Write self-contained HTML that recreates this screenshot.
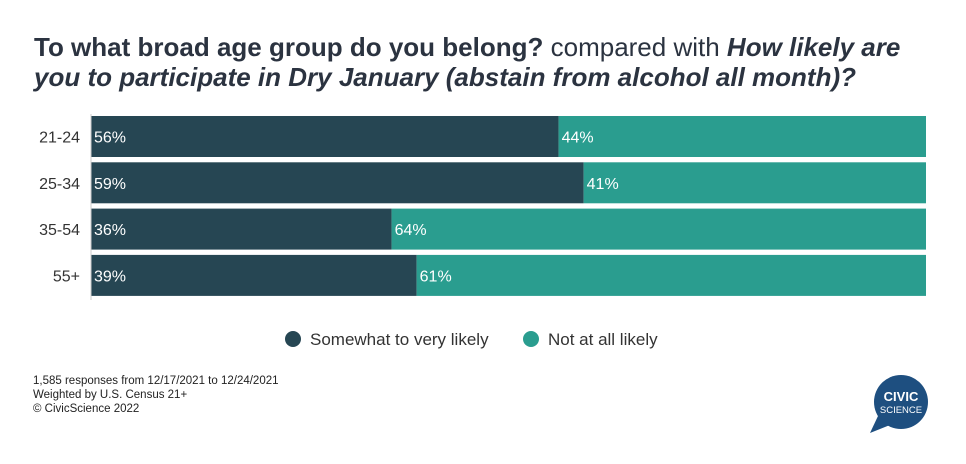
<!DOCTYPE html>
<html><head><meta charset="utf-8"><style>
body{margin:0;width:966px;height:464px;background:#fff;font-family:"Liberation Sans",sans-serif;overflow:hidden;position:relative}
.t{position:absolute;left:34px;top:32px;font-size:26px;line-height:30px;color:#2b3340;font-weight:bold;width:940px;white-space:nowrap}
.t span{font-weight:normal}
.f{position:absolute;left:33px;top:374px;font-size:11.5px;line-height:14px;color:#222}
</style></head><body>
<div class="t">To what broad age group do you belong? <span>compared with</span> <i>How likely are<br>you to participate in Dry January (abstain from alcohol all month)?</i></div>
<svg id="c" width="966" height="464" style="position:absolute;left:0;top:0"></svg>
<div class="f">1,585 responses from 12/17/2021 to 12/24/2021<br>Weighted by U.S. Census 21+<br>© CivicScience 2022</div>
<svg width="966" height="464" style="position:absolute;left:0;top:0">
<circle cx="901" cy="402" r="27" fill="#1e4f80"/>
<path d="M878 416 L870 433 L890 425 Z" fill="#1e4f80"/>
<text x="901" y="401" text-anchor="middle" font-size="13" font-weight="bold" fill="#fff" font-family="Liberation Sans">CIVIC</text>
<text x="901" y="413" text-anchor="middle" font-size="9.5" fill="#fff" font-family="Liberation Sans">SCIENCE</text>
</svg>
<script>
const categories=["21-24","25-34","35-54","55+"];
const likely=[56,59,36,39];
const notLikely=[44,41,64,61];
const seriesNames=["Somewhat to very likely","Not at all likely"];
const colors=["#264653","#2a9d8f"];
const svg=document.getElementById('c');const NS="http://www.w3.org/2000/svg";
const x0=91,x1=926;const xs=v=>x0+(x1-x0)*v/100;
const rowTop=i=>116+i*46.3,bh=41;
function el(t,a){const e=document.createElementNS(NS,t);for(const k in a)e.setAttribute(k,a[k]);svg.appendChild(e);return e;}
categories.forEach((c,i)=>{
 const y=rowTop(i);
 const r1=el('rect',{x:xs(0),y:y,width:xs(likely[i])-xs(0),height:bh,fill:colors[0]});
 
 
 const r2=el('rect',{x:xs(likely[i]),y:y,width:xs(likely[i]+notLikely[i])-xs(likely[i]),height:bh,fill:colors[1]});
 
 
 const t1=el('text',{x:xs(0)+3,y:y+bh/2+6,fill:'#fff','font-size':16});t1.textContent=likely[i]+'%';
 
 
 const t2=el('text',{x:xs(likely[i])+3,y:y+bh/2+6,fill:'#fff','font-size':16});t2.textContent=notLikely[i]+'%';
 
 
 const tl=el('text',{x:80,y:y+bh/2+6,'text-anchor':'end',fill:'#333','font-size':16});tl.textContent=c;
 
 
});
const ax=el('line',{x1:91,x2:91,y1:114,y2:300,stroke:'#ccc'});


const lx=[293,531];
seriesNames.forEach((n,i)=>{
 const c=el('circle',{cx:lx[i],cy:339,r:8,fill:colors[i]});
 
 
 const t=el('text',{x:lx[i]+17,y:345,fill:'#333','font-size':17});t.textContent=n;
 
 
});
</script>
</body></html>
